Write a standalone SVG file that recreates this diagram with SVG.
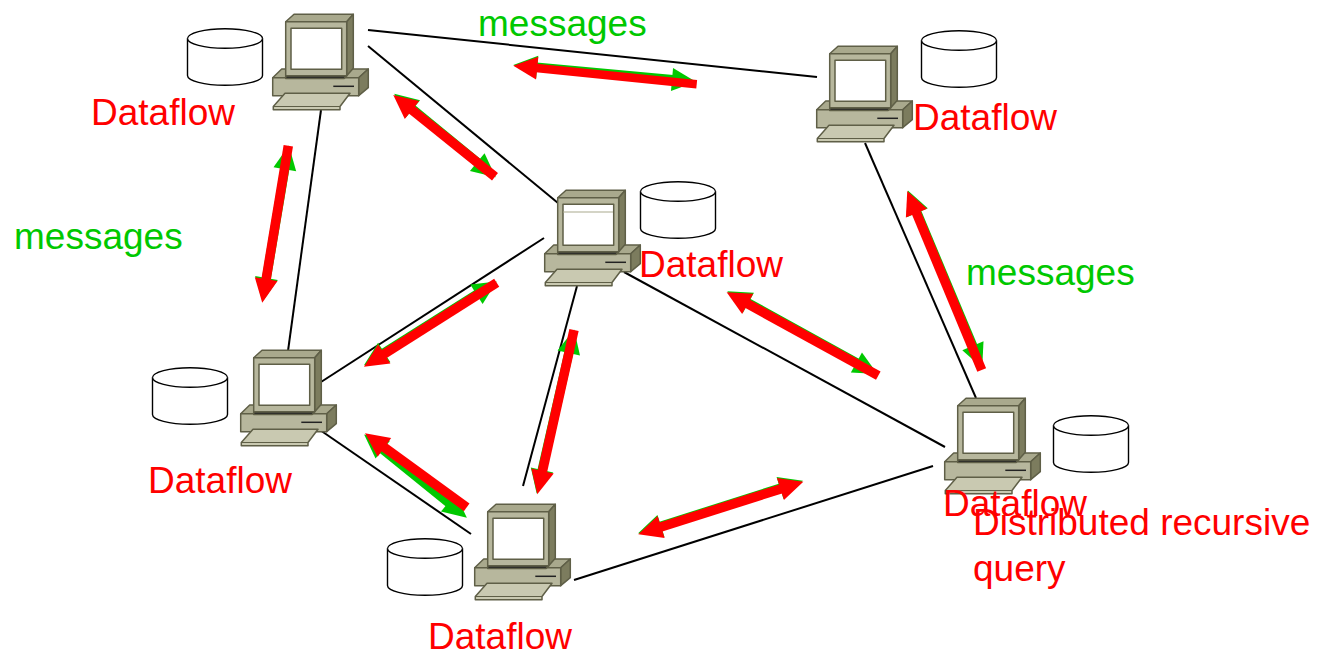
<svg xmlns="http://www.w3.org/2000/svg" width="1317" height="654" viewBox="0 0 1317 654">
<style>
text{font-family:"Liberation Sans",Arial,sans-serif;font-size:37px}
.red{fill:#ff0000}.grn{fill:#00c800}
.link{stroke:#000;stroke-width:2;fill:none}
.ra{stroke:#ff0000;stroke-width:9.5;fill:none;marker-end:url(#hr)}
.rb{stroke:#ff0000;stroke-width:9.5;fill:none;marker-start:url(#hr);marker-end:url(#hr)}
.ga{stroke:#00c800;stroke-width:9;fill:none;marker-start:url(#hg);marker-end:url(#hg)}
.pc polygon,.pc rect{stroke:#5f5f47;stroke-width:1.5;stroke-linejoin:round}
.cy{fill:#fff;stroke:#000;stroke-width:1.4}
</style>
<defs>
<marker id="hr" markerUnits="userSpaceOnUse" markerWidth="26" markerHeight="26" refX="1" refY="12" orient="auto-start-reverse" overflow="visible"><path d="M0,0.5L24,12L0,23.5z" fill="#ff0000"/></marker>
<marker id="hg" markerUnits="userSpaceOnUse" markerWidth="26" markerHeight="26" refX="1" refY="12" orient="auto-start-reverse" overflow="visible"><path d="M0,0.5L24,12L0,23.5z" fill="#00c800"/></marker>
<g id="computer" class="pc">
<polygon points="0.7,63.7 9.7,55 96.3,55 86.7,63.7" fill="#a9a98d"/>
<polygon points="86.7,63.7 96.3,55 96.3,73.7 86.7,81.7" fill="#7c7c5e"/>
<rect x="0.7" y="63.7" width="86" height="18" fill="#b7b79d"/>
<line x1="61.3" y1="72.3" x2="82" y2="72.3" stroke="#222" stroke-width="1.5"/>
<polygon points="13.7,61.7 74.7,61.7 72,64.5 13.7,64.5" fill="#222" stroke="#222"/>
<polygon points="13.7,7.7 22,0.3 81.3,0.3 74.7,7.7" fill="#a9a98d"/>
<polygon points="74.7,7.7 81.3,0.3 81.3,54.3 74.7,61.7" fill="#7c7c5e"/>
<rect x="13.7" y="7.7" width="61" height="54" fill="#b7b79d"/>
<rect x="19" y="14.3" width="50.7" height="41" fill="#fff"/>
<polygon points="1.3,92.5 13,79.3 78,79.3 68,92.5 68,95.7 1.3,95.7" fill="#c9c9b1"/>
<line x1="1.3" y1="92.5" x2="68" y2="92.5" stroke="#5f5f47" stroke-width="1"/>
</g>
<g id="cylinder">
<path class="cy" d="M0.5,10.5A37.5,9.8 0 0 1 75.5,10.5V47.5A37.5,9.8 0 0 1 0.5,47.5z"/>
<path class="cy" fill="none" d="M0.5,10.5A37.5,9.8 0 0 0 75.5,10.5"/>
</g>
</defs>
<g id="connectors">
<line class="link" x1="368" y1="30" x2="817" y2="77"/>
<line class="link" x1="368" y1="46" x2="558" y2="203"/>
<line class="link" x1="321" y1="110" x2="288" y2="351"/>
<line class="link" x1="544" y1="238" x2="321" y2="382"/>
<line class="link" x1="577" y1="286" x2="523" y2="486"/>
<line class="link" x1="624" y1="272" x2="945" y2="447"/>
<line class="link" x1="320" y1="430" x2="471" y2="534"/>
<line class="link" x1="574" y1="580" x2="933" y2="466"/>
<line class="link" x1="865" y1="143" x2="976" y2="398"/>
</g>
<g id="message-arrows">
<line class="ga" x1="536.2" y1="67" x2="673" y2="79.6"/>
<line class="ga" x1="412" y1="108.4" x2="478" y2="162.7"/>
<line class="ga" x1="266.3" y1="279" x2="285" y2="168.3"/>
<line class="ga" x1="383.4" y1="353" x2="477.3" y2="293.7"/>
<line class="ga" x1="541.8" y1="471" x2="569" y2="352"/>
<line class="ga" x1="382" y1="449" x2="449" y2="503.3"/>
<line class="ga" x1="660" y1="526.3" x2="781" y2="487.7"/>
<line class="ga" x1="747.5" y1="302.4" x2="857.3" y2="363"/>
<line class="ga" x1="916.8" y1="211.8" x2="973.3" y2="346.7"/>
</g>
<g id="query-arrows">
<line class="ra" style="stroke-width:8.5" x1="696.7" y1="84.3" x2="536.2" y2="68"/>
<line class="ra" x1="495" y1="176.7" x2="411.2" y2="109.4"/>
<line class="ra" x1="288.3" y1="145.7" x2="266" y2="280"/>
<line class="ra" x1="496.7" y1="282.7" x2="383.4" y2="354.4"/>
<line class="ra" x1="574" y1="330" x2="542.3" y2="471.9"/>
<line class="ra" x1="466.7" y1="507.3" x2="383.6" y2="446.8"/>
<line class="rb" x1="660.2" y1="527.3" x2="781.4" y2="488.7"/>
<line class="ra" x1="878.3" y1="375.7" x2="746.8" y2="303.4"/>
<line class="ra" x1="981.7" y1="370" x2="916.1" y2="212.2"/>
</g>
<g id="node-a"><use href="#computer" x="272" y="14"/><use href="#cylinder" x="187" y="28"/><text class="red" x="91" y="125">Dataflow</text></g>
<g id="node-b"><use href="#computer" x="816" y="46"/><use href="#cylinder" x="921" y="30"/><text class="red" x="913" y="130">Dataflow</text></g>
<g id="node-c"><use href="#computer" x="544" y="190"/><line x1="563" y1="212" x2="613" y2="212" stroke="#a9a98d" stroke-width="1"/><use href="#cylinder" x="640" y="181"/><text class="red" x="639" y="277">Dataflow</text></g>
<g id="node-d"><use href="#computer" x="240" y="350"/><use href="#cylinder" x="152" y="367"/><text class="red" x="148" y="493">Dataflow</text></g>
<g id="node-e"><use href="#computer" x="474" y="504"/><use href="#cylinder" x="387" y="538"/><text class="red" x="428" y="649">Dataflow</text></g>
<g id="node-f"><use href="#computer" x="944" y="398"/><use href="#cylinder" x="1053" y="415"/><text class="red" x="943" y="516">Dataflow</text></g>
<g id="labels">
<text class="grn" x="478" y="36">messages</text>
<text class="grn" x="14" y="249">messages</text>
<text class="grn" x="966" y="285">messages</text>
<text class="red" x="973" y="535">Distributed recursive</text>
<text class="red" x="973" y="581">query</text>
</g>
</svg>
